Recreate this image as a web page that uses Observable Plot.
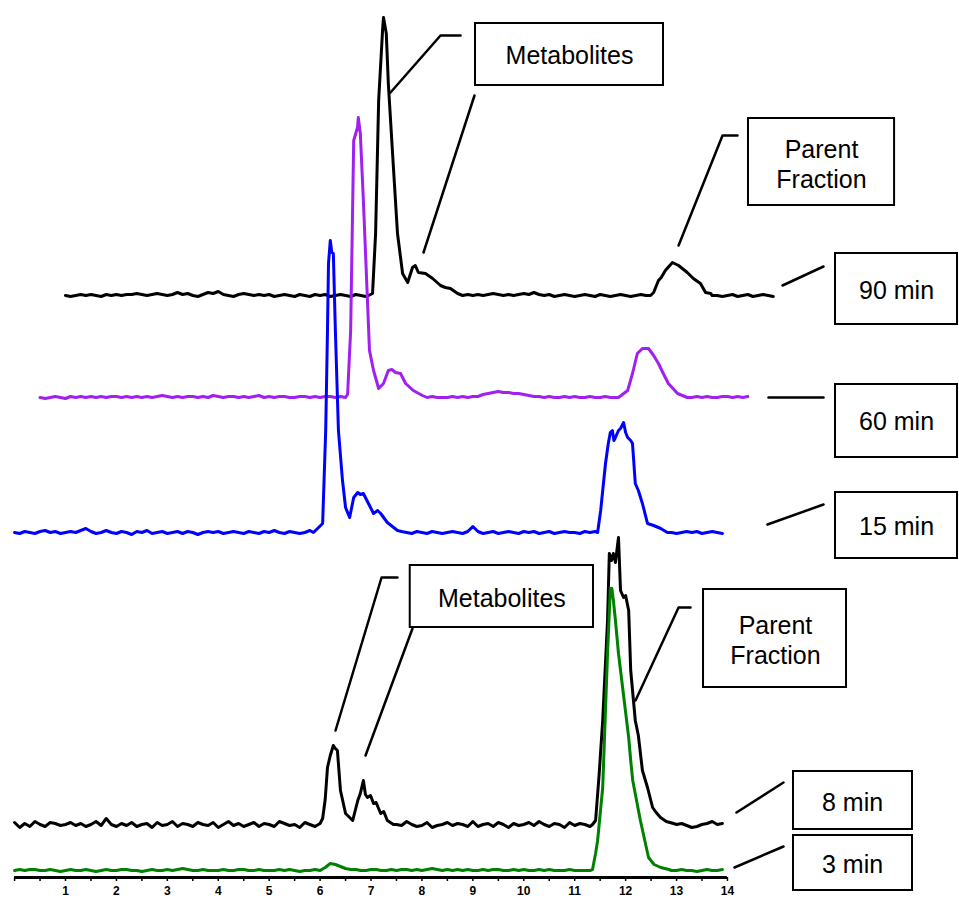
<!DOCTYPE html>
<html><head><meta charset="utf-8">
<script src="https://cdn.jsdelivr.net/npm/d3@7"></script>
<script src="https://cdn.jsdelivr.net/npm/@observablehq/plot@0.6"></script>
<style>html,body{margin:0;padding:0;background:#fff}</style>
</head><body><div id="chart"></div>
<script>
// ---- Data ----
const sampleNames = ["3 min", "8 min", "15 min", "60 min", "90 min"];
const majorTicks = [1,2,3,4,5,6,7,8,9,10,11,12,13,14];
const noiseStep = 0.1; // baseline readings every 0.1 min, t = 0.0 .. 13.9

const noise3 = [0,1,0,1,1,0,0,1,0,-1, 0,1,0,0,1,0,-1,0,1,0, 0,1,1,0,0,-1,0,1,0,0, 1,0,1,2,1,0,0,1,0,0,
  0,1,0,0,1,1,0,0,1,0, 0,0,1,0,1,0,-1,0,0,1, 0,1,1,2,1,1,0,1,0,0, 1,1,0,0,1,0,1,1,0,1,
  0,1,2,1,0,1,0,1,0,1, 0,0,1,0,1,1,0,0,1,0, 1,0,0,1,0,1,0,0,0,1, 0,0,0,1,0,0,1,0,0,0,
  0,1,0,0,1,0,-1,0,1,0, 0,1,0,0,-1,0,1,0,0,1];
const noise8 = [2,-3,1,-2,3,0,-2,2,1,-1, 0,2,-1,1,-2,0,3,-1,6,0, -2,1,-1,2,-2,0,1,-3,2,-1, 0,3,-2,1,0,-2,2,0,-1,2,
  -3,0,3,-1,1,-2,0,2,-2,1, 0,-2,3,1,-1,0,-3,2,0,-2, 1,0,-3,-1,2,0,3,1,4,-1, 2,0,-1,0,-2,0,-1,3,0,-2,
  -1,2,-3,-1,0,2,-1,1,0,-2, 3,-2,0,1,-2,2,0,-3,1,-1, 0,2,-1,3,0,-2,1,0,-3,2, -1,1,0,-2,2,0,-1,1,0,-2,
  1,-1,2,0,-2,1,-1,0,2,-2, 0,1,-1,-3,-2,0,1,3,0,1];
const noise15 = [0,-1,1,0,-1,1,2,0,1,-1, 0,1,0,2,4,1,-1,0,2,0, -1,1,0,-2,1,0,2,-1,0,1, -1,0,1,-1,1,0,-2,0,1,0,
  1,-1,0,1,0,-1,1,0,-1,1, 0,2,0,-1,1,0,-1,0,2,0, -1,1,0,-1,0,1,-1,0,1,0, 3,0,-1,1,0,-1,1,0,-1,1,
  0,-1,1,0,-1,0,1,0,-1,1, 6,1,-1,0,1,-1,0,1,0,-1, 1,0,1,-1,0,1,-1,0,1,0, 0,-1,1,0,1,-1,0,1,0,-1,
  1,0,-1,1,0,1,-1,0,1,0, -1,0,1,0,1,-1,0,1,0,-1];
const noise60 = [0,-1,0,1,0,-1,1,0,1,0, 1,0,1,0,1,1,0,1,0,1, 0,1,0,1,2,1,0,1,0,1, 1,0,1,0,2,1,0,1,1,0,
  1,0,1,2,0,1,0,1,1,0, 0,1,1,0,1,0,1,1,0,1, 0,1,0,0,1,0,1,0,0,1, 0,0,1,0,0,-1,0,1,0,0,
  0,1,0,1,0,1,1,3,4,5, 6,5,5,4,4,3,2,1,1,0, 1,0,0,1,0,1,0,0,1,0, 0,1,0,0,1,0,1,0,0,1,
  0,1,0,0,1,0,1,0,0,1, 0,1,0,0,1,1,0,1,0,1];
const noise90 = [0,-1,0,1,0,1,0,-1,1,0, 1,0,1,1,2,1,0,1,2,1, 0,1,3,1,2,0,-1,1,3,2, 4,1,0,-1,1,2,1,0,1,0,
  1,-1,0,1,0,-1,1,0,-1,1, 0,1,-1,0,1,0,-1,1,0,-1, 0,1,0,-1,0,1,0,-1,0,1, 0,1,0,-1,0,1,0,0,0,1,
  0,1,0,1,2,1,0,1,0,1, 2,1,3,1,0,1,-1,0,1,0, -1,0,1,0,-1,1,0,-1,0,1, 0,-1,0,1,0,-1,0,1,0,0,
  0,1,0,1,0,1,0,0,0,-1, 0,1,-1,0,1,-1,0,1,0,-1];

// peak segments: [retention time (min), signal above baseline]
const peaks3 = [
  [[6.0,0],[6.1,3],[6.2,7],[6.3,6],[6.4,4],[6.5,2],[6.6,1]],
  [[11.30,0],[11.35,1],[11.41,17],[11.45,30],[11.55,83],[11.645,217],[11.70,282],[11.73,282],[11.76,270],[11.80,250],
   [11.86,217],[11.96,175],[12.06,133],[12.10,110],[12.14,90],[12.29,50],[12.45,13],[12.56,6],[12.69,3],[12.85,1]]
];
const peaks8 = [
  [[6.05,6],[6.10,25],[6.145,57],[6.20,69],[6.26,79],[6.30,76],[6.34,74],[6.40,34],[6.50,11],[6.64,4],[6.74,24],[6.79,31],
   [6.85,44],[6.89,30],[6.93,27],[6.99,29],[7.05,21],[7.10,22],[7.19,11],[7.25,13],[7.32,4],[7.44,0]],
  [[11.35,0],[11.41,4],[11.48,50],[11.55,104],[11.645,204],[11.68,271],[11.72,264],[11.76,271],[11.80,262],[11.86,287],
   [11.90,234],[11.96,227],[12.0,229],[12.06,214],[12.10,154],[12.19,104],[12.25,89],[12.33,54],[12.43,37],[12.53,17],
   [12.60,12],[12.685,7],[12.80,3],[12.94,1]]
];
const peaks15 = [
  [[5.87,0],[5.97,5],[6.05,9],[6.11,102],[6.145,202],[6.165,269],[6.20,292],[6.23,280],[6.26,279],[6.30,202],[6.36,102],
   [6.44,52],[6.50,25],[6.58,15],[6.66,35],[6.74,40],[6.79,38],[6.85,39],[6.95,29],[7.05,19],[7.13,22],[7.19,19],[7.32,10],[7.52,2]],
  [[11.45,0],[11.51,22],[11.605,69],[11.66,89],[11.70,100],[11.74,102],[11.77,92],[11.80,95],[11.86,102],[11.90,104],
   [11.96,110],[12.0,100],[12.04,95],[12.10,92],[12.135,89],[12.19,49],[12.25,42],[12.33,29],[12.43,9],[12.55,7],[12.69,4],[12.82,0]]
];
const peaks60 = [
  [[6.00,0],[6.04,3],[6.10,67],[6.16,257],[6.235,270],[6.25,280],[6.29,264],[6.35,197],[6.43,97],[6.47,47],[6.55,27],
   [6.65,9],[6.745,14],[6.84,27],[6.91,28],[6.98,25],[7.08,24],[7.18,14],[7.33,7],[7.51,2]],
  [[11.36,0],[11.54,7],[11.635,24],[11.73,44],[11.83,49],[11.95,49],[12.05,42],[12.145,34],[12.24,24],[12.34,14],[12.52,4],[12.71,0]]
];
const peaks90 = [
  [[5.95,0],[6.03,2],[6.09,62],[6.15,195],[6.23,268],[6.245,278],[6.30,262],[6.34,212],[6.44,128],[6.52,62],[6.62,22],
   [6.72,13],[6.815,28],[6.87,30],[6.93,23],[7.07,22],[7.21,17],[7.365,10],[7.46,8],[7.56,7],[7.70,2]],
  [[11.49,0],[11.55,3],[11.645,15],[11.70,18],[11.78,25],[11.92,33],[12.04,30],[12.21,23],[12.33,17],[12.47,12],[12.57,3],[12.67,2]]
];

// annotation texts
const boxLabels = ["Metabolites", "Parent\nFraction", "90 min", "60 min", "15 min", "Metabolites", "Parent\nFraction", "8 min", "3 min"];

// ---- Layout (stacking offsets & annotation placement) ----
const layout = {
  "3 min":  {baseline: 7,   shift: 0,   color: "#008000"},
  "8 min":  {baseline: 53,  shift: 0,   color: "#000000"},
  "15 min": {baseline: 345, shift: 0,   color: "#0000ff"},
  "60 min": {baseline: 480, shift: 0.5, color: "#a020f0"},
  "90 min": {baseline: 582, shift: 1.0, color: "#000000"}
};
const noiseBy = {"3 min": noise3, "8 min": noise8, "15 min": noise15, "60 min": noise60, "90 min": noise90};
const peaksBy = {"3 min": peaks3, "8 min": peaks8, "15 min": peaks15, "60 min": peaks60, "90 min": peaks90};

const boxPlace = [
  {x1: 9.052, x2: 12.744, y1: 792, y2: 854, tx: 10.898, ty: 823},
  {x1: 14.413, x2: 17.282, y1: 672, y2: 759, tx: 15.847, ty: 714},
  {x1: 16.122, x2: 18.518, y1: 553, y2: 624, tx: 17.32, ty: 588},
  {x1: 16.122, x2: 18.518, y1: 420, y2: 493, tx: 17.32, ty: 457},
  {x1: 16.122, x2: 18.518, y1: 319, y2: 385, tx: 17.32, ty: 352},
  {x1: 7.77, x2: 11.369, y1: 250, y2: 312, tx: 9.57, ty: 280},
  {x1: 13.53, x2: 16.338, y1: 190, y2: 288, tx: 14.943, ty: 238},
  {x1: 15.297, x2: 17.634, y1: 48, y2: 106, tx: 16.456, ty: 76},
  {x1: 15.297, x2: 17.634, y1: -13, y2: 42, tx: 16.456, ty: 14}
];
const leaders = [
  [[7.383,785],[8.365,842],[8.759,842]],
  [[9.032,782],[8.031,625]],
  [[13.04,632],[13.903,742],[14.197,742]],
  [[15.081,592],[15.886,611]],
  [[14.806,480],[15.886,480]],
  [[14.786,353],[15.886,373]],
  [[6.303,147],[7.207,300],[7.52,300]],
  [[6.892,122],[7.815,249]],
  [[12.194,177],[13.04,270],[13.275,270]],
  [[14.177,65],[15.1,95]],
  [[14.138,10],[15.1,31]]
];

// ---- Build traces ----
function buildTrace(name) {
  const noise = noiseBy[name], peaks = peaksBy[name];
  const ranges = peaks.map(p => [p[0][0], p[p.length - 1][0]]);
  const pts = [];
  noise.forEach((v, i) => {
    const t = +(i * noiseStep).toFixed(2);
    if (!ranges.some(([a, b]) => t >= a && t <= b)) pts.push([t, v]);
  });
  peaks.forEach(seg => seg.forEach(d => pts.push(d)));
  pts.sort((a, b) => a[0] - b[0]);
  const L = layout[name];
  return pts.map(([t, v]) => ({sample: name, time: t + L.shift, signal: v + L.baseline}));
}
const drawOrder = ["90 min", "60 min", "15 min", "8 min", "3 min"];
const traceMarks = drawOrder.map(name =>
  Plot.line(buildTrace(name), {x: "time", y: "signal", stroke: layout[name].color, strokeWidth: 3, strokeLinejoin: "round", strokeLinecap: "round"})
);

const boxes = boxLabels.map((label, i) => ({label, ...boxPlace[i]}));
const leaderRows = leaders.flatMap((pts, i) => pts.map(([x, y]) => ({id: i, x, y})));
const minorTicks = d3.range(0, 141).map(i => i / 10).filter(t => Math.abs(t * 2 - Math.round(t * 2)) > 1e-6);
const halfTicks = d3.range(0, 29).map(i => i / 2);

const font = "'Liberation Sans', Arial, Helvetica, sans-serif";
const chart = Plot.plot({
  width: 959, height: 899,
  marginLeft: 14.08, marginRight: 0, marginTop: 0, marginBottom: 22,
  x: {domain: [0, 18.557], label: null},
  y: {domain: [0, 877], axis: null},
  style: {fontFamily: font, background: "white", overflow: "visible"},
  marks: [
    ...traceMarks,
    Plot.ruleY([0], {x1: 0, x2: 14, stroke: "black", strokeWidth: 3}),
    Plot.axisX(minorTicks, {tickSize: 2, tickFormat: () => "", label: null, stroke: "black", strokeWidth: 1}),
    Plot.axisX(halfTicks, {tickSize: 4, tickFormat: () => "", label: null, stroke: "black", strokeWidth: 1.5}),
    Plot.text(majorTicks, {x: d => d, y: 0, dy: 14, text: d => String(d), fontSize: 12, fontWeight: "bold", fill: "black", textAnchor: "middle", lineAnchor: "middle", fontFamily: font}),
    Plot.line(leaderRows, {x: "x", y: "y", z: "id", stroke: "black", strokeWidth: 2.5}),
    Plot.rect(boxes, {x1: "x1", x2: "x2", y1: "y1", y2: "y2", fill: "white", stroke: "black", strokeWidth: 2}),
    Plot.text(boxes, {x: "tx", y: "ty", text: "label", fontSize: 25, lineHeight: 1.2, textAnchor: "middle", lineAnchor: "middle", fill: "black", fontFamily: font})
  ]
});
document.getElementById("chart").appendChild(chart);
</script>
</body></html>
